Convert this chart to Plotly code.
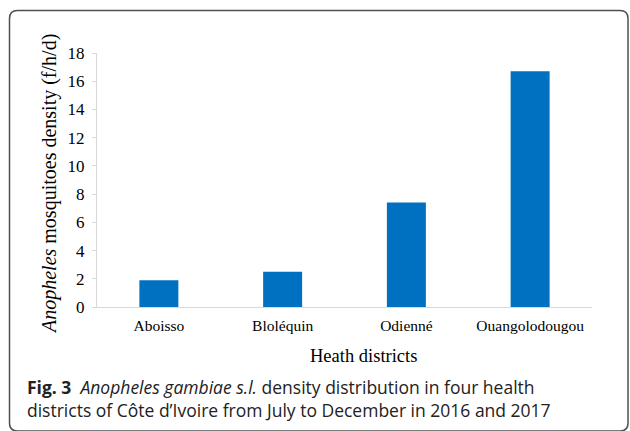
import plotly.graph_objects as go

districts = ["Aboisso", "Bloléquin", "Odienné", "Ouangolodougou"]
density = [1.9, 2.5, 7.4, 16.7]
y_ticks = [0, 2, 4, 6, 8, 10, 12, 14, 16, 18]

W_PX, H_PX = 630, 431
L, R, T, B = 97, 592, 53, 307


def px(x):
    return (x - L) / (R - L)


def py(y):
    return (B - y) / (B - T)


fig = go.Figure(go.Bar(x=districts, y=density, marker_color="#0070C0",
                       marker_line_width=0))

serif = "Liberation Serif, Times New Roman, serif"
fig.update_layout(
    width=W_PX, height=H_PX,
    margin=dict(l=L, r=W_PX - R, t=T, b=H_PX - B, pad=0),
    paper_bgcolor="white", plot_bgcolor="white",
    bargap=0.685, showlegend=False,
    font=dict(family=serif, color="#000000"),
    xaxis=dict(showline=True, linecolor="#d9d9d9", linewidth=1, ticks="",
               tickfont=dict(family=serif, size=15.5, color="#000"),
               ticklabelstandoff=4,
               showgrid=False, zeroline=False, automargin=False),
    yaxis=dict(range=[0, 18], tickvals=y_ticks, showline=True,
               linecolor="#d9d9d9", linewidth=1, ticks="outside", ticklen=4,
               tickcolor="#d9d9d9", showgrid=False, zeroline=False,
               tickfont=dict(family=serif, size=17, color="#000"),
               ticklabelstandoff=4, automargin=False),
)

# y-axis title
fig.add_annotation(text="<i>Anopheles</i> mosquitoes density (f/h/d)",
                   xref="paper", yref="paper", x=px(49), y=py(184),
                   xanchor="center", yanchor="middle",
                   textangle=-90, showarrow=False,
                   font=dict(family=serif, size=20, color="#000"))
# x-axis title
fig.add_annotation(text="Heath districts", xref="paper", yref="paper",
                   x=px(363), y=py(356), xanchor="center", yanchor="middle",
                   showarrow=False,
                   font=dict(family=serif, size=18.5, color="#000"))

# caption (two lines in one text block)
cap = "Open Sans, Noto Sans, sans-serif"
fig.add_annotation(text="<b>Fig. 3</b>  <i>Anopheles gambiae s.l.</i> density distribution in four health"
                        "<br>districts of Côte d’Ivoire from July to December in 2016 and 2017",
                   xref="paper", yref="paper", x=px(25), y=py(398),
                   xanchor="left", yanchor="middle", align="left",
                   showarrow=False,
                   font=dict(family=cap, size=17.5, color="#222"))

# rounded frame
r = 8
x0, x1, y0, y1 = 9.5, 628, 10.5, 431
path = (f"M {px(x0)},{py(y1 - r)} L {px(x0)},{py(y0 + r)} "
        f"Q {px(x0)},{py(y0)} {px(x0 + r)},{py(y0)} "
        f"L {px(x1 - r)},{py(y0)} Q {px(x1)},{py(y0)} {px(x1)},{py(y0 + r)} "
        f"L {px(x1)},{py(y1 - r)} Q {px(x1)},{py(y1)} {px(x1 - r)},{py(y1)} "
        f"L {px(x0 + r)},{py(y1)} Q {px(x0)},{py(y1)} {px(x0)},{py(y1 - r)} Z")
fig.add_shape(type="path", path=path, xref="paper", yref="paper",
              line=dict(color="#505050", width=1.5))

fig.write_html("out.html", config={"displayModeBar": False},
               post_script="document.body.style.margin='0';"
                           "document.body.style.overflow='hidden';")
